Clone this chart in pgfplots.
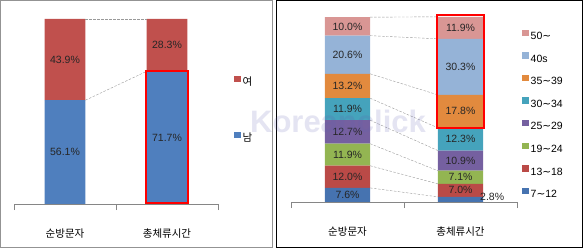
\documentclass[border=0pt]{standalone}
\usepackage{fontspec}
\setmainfont{Liberation Sans}
\newfontfamily\kr{Noto Sans CJK KR}
\newfontfamily\dv{DejaVu Sans}
\newcommand{\tl}{{\dv\char"7E}}
\usepackage{pgfplots}
\pgfplotsset{compat=1.18}
\definecolor{cM}{HTML}{4F7FBE}
\definecolor{cF}{HTML}{C0504D}
\definecolor{cA}{HTML}{4673B0}
\definecolor{cB}{HTML}{BA4A47}
\definecolor{cC}{HTML}{93B552}
\definecolor{cD}{HTML}{7560A0}
\definecolor{cE}{HTML}{45A3BC}
\definecolor{cG}{HTML}{E28A3E}
\definecolor{cH}{HTML}{95B3D7}
\definecolor{cI}{HTML}{D99694}
\definecolor{axisgray}{HTML}{868686}
\definecolor{wm}{HTML}{6060B0}
\pgfplotsset{
  panel/.style={
    scale only axis, anchor=south west,
    xmin=0, xmax=2, ymin=0, ymax=100,
    ybar stacked, bar width=0.4,
    axis y line=none,
    axis x line*=bottom,
    x axis line style={draw=axisgray,-},
    xtick={0.5,1.5},
    xticklabels={{\kr 순방문자},{\kr 총체류시간}},
    major tick length=0pt,
    minor xtick={0,1,2},
    minor tick length=6pt,
    tick align=outside,
    minor tick style={axisgray},
    xticklabel style={yshift=-21pt},
    legend cell align=left,
    reverse legend,
    legend image code/.code={\fill[##1] (0pt,0.5pt) rectangle (6.5pt,7pt);},
    legend style={draw=none, fill=none, anchor=west, inner sep=0pt,
      nodes={inner ysep=0pt, inner xsep=2pt, text height=8pt, text depth=2pt}},
  },
  over/.style={
    scale only axis, anchor=south west,
    xmin=0, xmax=2, ymin=0, ymax=100,
    hide axis, clip=false,
  },
  conn/.style={draw=gray!80, thin, dash pattern=on 2.5pt off 1.5pt, mark=none},
  box/.style={draw=red, line width=2pt, line join=miter, mark=none},
  labs/.style={draw=none, mark=none, point meta=explicit,
    nodes near coords={\pgfmathprintnumber[fixed,fixed zerofill,precision=1,assume math mode=true]{\pgfplotspointmeta}\%},
    every node near coord/.append style={anchor=center, text=black!85, inner sep=0pt}},
}
\begin{document}
\fontsize{10.5}{12}\selectfont
\begin{tikzpicture}[x=1pt,y=1pt]
\useasboundingbox (0,0) rectangle (585,251);
\draw[draw=gray!85] (0.5,4) rectangle (272.5,250.5);
\draw[draw=black] (276.5,4) rectangle (582.5,250.5);
% ---------- left panel ----------
\begin{axis}[panel, at={(14pt,47pt)}, width=204pt, height=185pt,
  legend style={at={(1.078,0.51)}, row sep=44pt}]
\addplot[fill=cM, draw=none] coordinates {(0.5,56.1) (1.5,71.7)};
\addplot[fill=cF, draw=none] coordinates {(0.5,43.9) (1.5,28.3)};
\legend{{\kr 남},{\kr 여}}
\end{axis}
\begin{axis}[over, at={(14pt,47pt)}, width=204pt, height=185pt]
\addplot[conn] coordinates {(0.7,100) (1.3,100)};
\addplot[conn] coordinates {(0.7,56.1) (1.3,71.7)};
\addplot[box] coordinates {(1.29,0.5) (1.71,0.5) (1.71,72) (1.29,72)} -- cycle;
\addplot[labs] table[meta=v] {
x y v
0.5 28.05 56.1
0.5 78.05 43.9
1.5 35.85 71.7
1.5 85.85 28.3
};
\end{axis}
% ---------- right panel ----------
\begin{axis}[panel, at={(291pt,49pt)}, width=226pt, height=185pt,
  legend style={at={(1.022,0.472)}, row sep=10.57pt}]
\addplot[fill=cA, draw=none] coordinates {(0.5,7.6) (1.5,2.8)};
\addplot[fill=cB, draw=none] coordinates {(0.5,12.0) (1.5,7.0)};
\addplot[fill=cC, draw=none] coordinates {(0.5,11.9) (1.5,7.1)};
\addplot[fill=cD, draw=none] coordinates {(0.5,12.7) (1.5,10.9)};
\addplot[fill=cE, draw=none] coordinates {(0.5,11.9) (1.5,12.3)};
\addplot[fill=cG, draw=none] coordinates {(0.5,13.2) (1.5,17.8)};
\addplot[fill=cH, draw=none] coordinates {(0.5,20.6) (1.5,30.3)};
\addplot[fill=cI, draw=none] coordinates {(0.5,10.0) (1.5,11.9)};
\legend{7\tl 12,13\tl 18,19\tl 24,25\tl 29,30\tl 34,35\tl 39,40s,50\tl}
\end{axis}
\begin{axis}[over, at={(291pt,49pt)}, width=226pt, height=185pt]
\addplot[conn] coordinates {(0.7,99.9) (1.3,100.1)};
\addplot[conn] coordinates {(0.7,89.9) (1.3,88.2)};
\addplot[conn] coordinates {(0.7,69.3) (1.3,57.9)};
\addplot[conn] coordinates {(0.7,56.1) (1.3,40.1)};
\addplot[conn] coordinates {(0.7,44.2) (1.3,27.8)};
\addplot[conn] coordinates {(0.7,31.5) (1.3,16.9)};
\addplot[conn] coordinates {(0.7,19.6) (1.3,9.8)};
\addplot[conn] coordinates {(0.7,7.6) (1.3,2.8)};
\addplot[box] coordinates {(1.29,40.0) (1.71,40.0) (1.71,101.0) (1.29,101.0)} -- cycle;
\addplot[labs] table[meta=v] {
x y v
0.5 3.8 7.6
0.5 13.6 12.0
0.5 25.55 11.9
0.5 37.85 12.7
0.5 50.15 11.9
0.5 62.7 13.2
0.5 79.6 20.6
0.5 94.9 10.0
1.78 2.5 2.8
1.5 6.3 7.0
1.5 13.35 7.1
1.5 22.35 10.9
1.5 33.95 12.3
1.5 49.0 17.8
1.5 73.05 30.3
1.5 94.15 11.9
};
\end{axis}
\node[anchor=base, text=wm, opacity=0.17, font=\bfseries\fontsize{31}{31}\selectfont] at (338,118) {Koreanclick};
\end{tikzpicture}
\end{document}
